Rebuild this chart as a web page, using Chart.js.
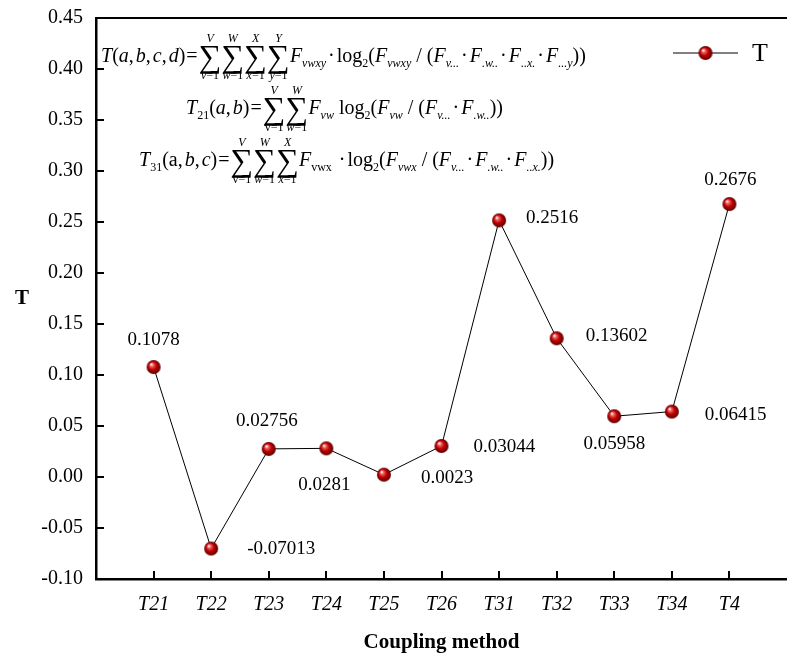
<!DOCTYPE html>
<html>
<head>
<meta charset="utf-8">
<script src="https://cdn.jsdelivr.net/npm/chart.js@4/dist/chart.umd.min.js"></script>
<style>
  html,body{margin:0;padding:0;background:#fff;}
  #wrap{position:relative;width:787px;height:659px;}
  canvas{position:absolute;left:0;top:0;}
  .f{position:absolute;font-family:'Liberation Serif','Times New Roman',serif;font-size:20px;color:#000;white-space:nowrap;line-height:1;}
  .f i{font-style:italic;}
  .sum{display:inline-flex;flex-direction:column;align-items:center;vertical-align:middle;margin:0;position:relative;top:-1px;}
  .sig{font-size:32px;line-height:0.78;}
  .lim{font-size:12px;line-height:1.0;}
  sub{font-size:12px;vertical-align:-5px;line-height:0;}
  .dot{margin:0 2px;}
  .eq{margin:0 1px;}
  .cm{margin-right:2px;}
</style>
</head>
<body>
<div id="wrap">
<canvas id="c" width="787" height="659"></canvas>

<div class="f" id="f1" style="left:101px;top:33px;">
  <i>T</i>(<i>a</i><span class="cm">,</span><i>b</i><span class="cm">,</span><i>c</i><span class="cm">,</span><i>d</i>)<span class="eq">=</span><span class="sum"><i class="lim">V</i><span class="sig">∑</span><span class="lim"><i>v</i>=1</span></span><span class="sum"><i class="lim">W</i><span class="sig">∑</span><span class="lim"><i>w</i>=1</span></span><span class="sum"><i class="lim">X</i><span class="sig">∑</span><span class="lim"><i>x</i>=1</span></span><span class="sum"><i class="lim">Y</i><span class="sig">∑</span><span class="lim"><i>y</i>=1</span></span><i>F</i><sub><i>vwxy</i></sub><span class="dot">·</span>log<sub>2</sub>(<i>F</i><sub><i>vwxy</i></sub>&nbsp;/&nbsp;(<i>F</i><sub><i>v...</i></sub><span class="dot">·</span><i>F</i><sub><i>.w..</i></sub><span class="dot">·</span><i>F</i><sub><i>..x.</i></sub><span class="dot">·</span><i>F</i><sub><i>...y</i></sub>))
</div>

<div class="f" id="f2" style="left:186px;top:85px;">
  <i>T</i><sub>21</sub>(<i>a</i><span class="cm">,</span><i>b</i>)<span class="eq">=</span><span class="sum"><i class="lim">V</i><span class="sig">∑</span><span class="lim">v=1</span></span><span class="sum"><i class="lim">W</i><span class="sig">∑</span><span class="lim"><i>w</i>=1</span></span><i>F</i><sub><i>vw</i></sub>&nbsp;log<sub>2</sub>(<i>F</i><sub><i>vw</i></sub>&nbsp;/&nbsp;(<i>F</i><sub><i>v...</i></sub><span class="dot">·</span><i>F</i><sub><i>.w..</i></sub>))
</div>

<div class="f" id="f3" style="left:139px;top:137px;">
  <i>T</i><sub>31</sub>(a<span class="cm">,</span><i>b</i><span class="cm">,</span><i>c</i>)<span class="eq">=</span><span class="sum"><i class="lim">V</i><span class="sig">∑</span><span class="lim">v=1</span></span><span class="sum"><i class="lim">W</i><span class="sig">∑</span><span class="lim"><i>w</i>=1</span></span><span class="sum"><i class="lim">X</i><span class="sig">∑</span><span class="lim"><i>x</i>=1</span></span><i>F</i><sub>vwx</sub>&nbsp;<span class="dot">·</span>log<sub>2</sub>(<i>F</i><sub><i>vwx</i></sub>&nbsp;/&nbsp;(<i>F</i><sub><i>v...</i></sub><span class="dot">·</span><i>F</i><sub><i>.w..</i></sub><span class="dot">·</span><i>F</i><sub><i>..x.</i></sub>))
</div>
</div>

<script>
// ---------- data ----------
const categories = ['T21','T22','T23','T24','T25','T26','T31','T32','T33','T34','T4'];
const tValues = [0.1078, -0.07013, 0.02756, 0.0281, 0.0023, 0.03044, 0.2516, 0.13602, 0.05958, 0.06415, 0.2676];
const valueLabels = ['0.1078','-0.07013','0.02756','0.0281','0.0023','0.03044','0.2516','0.13602','0.05958','0.06415','0.2676'];
const yMin = -0.10, yMax = 0.45, yStep = 0.05;
const seriesName = 'T';
const xTitle = 'Coupling method';
const yTitle = 'T';

// ---------- styles (label placement relative to each point) ----------
const labelOffsets = [
  [0,-27,'center'],[36,0,'left'],[-2,-28,'center'],[-2,37,'center'],[37,3,'left'],
  [32,1,'left'],[27,-2,'left'],[29,-2,'left'],[0,28,'center'],[33,3,'left'],[1,-24,'center']
];
const SERIF = "'Liberation Serif','Times New Roman',serif";

// sphere marker
function makeSphere(r){
  const c = document.createElement('canvas');
  const s = r*2+2;
  c.width = s; c.height = s;
  const g = c.getContext('2d');
  const cx = s/2, cy = s/2;
  const grad = g.createRadialGradient(cx-r*0.35, cy-r*0.4, r*0.05, cx, cy, r);
  grad.addColorStop(0, '#ffffff');
  grad.addColorStop(0.22, '#f06060');
  grad.addColorStop(0.55, '#c00000');
  grad.addColorStop(1, '#5a0000');
  g.fillStyle = grad;
  g.beginPath(); g.arc(cx, cy, r, 0, Math.PI*2); g.fill();
  return c;
}
const sphere = makeSphere(7);

const decor = {
  id: 'decor',
  afterDraw(chart){
    const {ctx, chartArea:a, scales:{x, y}} = chart;
    ctx.save();
    ctx.strokeStyle = '#000';
    ctx.lineWidth = 2;
    // top frame line
    ctx.beginPath(); ctx.moveTo(a.left, a.top); ctx.lineTo(a.right, a.top); ctx.stroke();
    // inward ticks on y
    y.ticks.forEach(t => {
      const py = Math.round(y.getPixelForValue(t.value));
      ctx.beginPath(); ctx.moveTo(a.left, py); ctx.lineTo(a.left+8, py); ctx.stroke();
    });
    // inward ticks on x
    x.ticks.forEach(t => {
      if (t.value < 1 || t.value > categories.length) return;
      const px = Math.round(x.getPixelForValue(t.value));
      ctx.beginPath(); ctx.moveTo(px, a.bottom); ctx.lineTo(px, a.bottom-8); ctx.stroke();
    });
    // y title (upright)
    ctx.fillStyle = '#000';
    ctx.font = "bold 21px " + SERIF;
    ctx.textAlign = 'center'; ctx.textBaseline = 'middle';
    ctx.fillText(yTitle, 22, (a.top + a.bottom)/2);
    // legend
    const ly = a.top + 35, lx0 = a.right - 114, lx1 = a.right - 49;
    ctx.lineWidth = 1;
    ctx.beginPath(); ctx.moveTo(lx0, ly); ctx.lineTo(lx1, ly); ctx.stroke();
    ctx.drawImage(sphere, (lx0+lx1)/2 - sphere.width/2, ly - sphere.height/2);
    ctx.font = "26px " + SERIF;
    ctx.textAlign = 'left';
    ctx.fillText(seriesName, a.right - 35, ly + 1);
    // value labels
    const meta = chart.getDatasetMeta(0);
    ctx.font = "19px " + SERIF;
    meta.data.forEach((pt, i) => {
      const [dx, dy, al] = labelOffsets[i];
      ctx.textAlign = al;
      ctx.fillText(valueLabels[i], pt.x + dx, pt.y + dy);
    });
    ctx.restore();
  }
};

function zeroPad(s){ s.paddingLeft = 0; s.paddingRight = 0; s.paddingTop = 0; s.paddingBottom = 0; }

new Chart(document.getElementById('c'), {
  type: 'line',
  data: {
    datasets: [{
      label: seriesName,
      data: categories.map((c, i) => ({x: i + 1, y: tValues[i]})),
      borderColor: '#000',
      borderWidth: 1,
      pointStyle: sphere,
      pointRadius: 7,
      tension: 0
    }]
  },
  options: {
    responsive: false,
    animation: false,
    devicePixelRatio: 1,
    layout: { autoPadding: false, padding: { top: 18, right: 0, left: 0, bottom: 0 } },
    plugins: { legend: { display: false }, tooltip: { enabled: false } },
    scales: {
      x: {
        type: 'linear', min: 0, max: categories.length + 1,
        grid: { display: false, drawTicks: false },
        border: { display: true, color: '#000', width: 2.5 },
        ticks: {
          stepSize: 1, autoSkip: false, maxRotation: 0, padding: 14,
          color: '#000', font: { family: SERIF, size: 20, style: 'italic' },
          callback: v => (v >= 1 && v <= categories.length) ? categories[v-1] : ''
        },
        title: { display: true, text: xTitle, color: '#000', font: { family: SERIF, size: 21, weight: 'bold' }, padding: { top: 4, bottom: 4 } },
        afterFit: s => { s.height = 80; zeroPad(s); }
      },
      y: {
        min: yMin, max: yMax,
        grid: { display: false, drawTicks: false },
        border: { display: true, color: '#000', width: 2.5 },
        ticks: {
          stepSize: yStep, padding: 13, color: '#000',
          font: { family: SERIF, size: 20 },
          callback: v => Number(v).toFixed(2)
        },
        afterFit: s => { s.width = 96; zeroPad(s); }
      }
    }
  },
  plugins: [decor]
});
</script>
</body>
</html>
